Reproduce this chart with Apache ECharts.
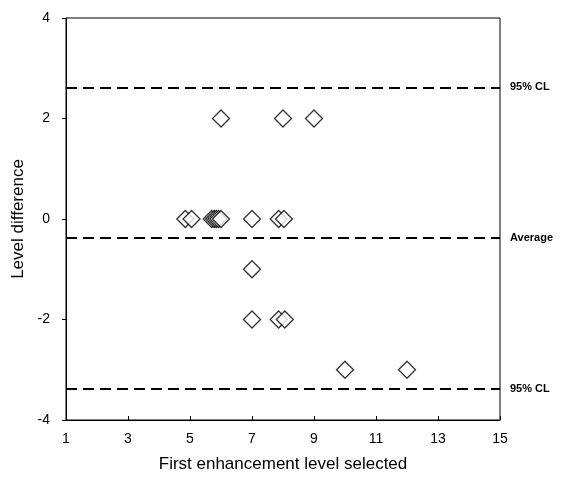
<!DOCTYPE html>
<html><head><meta charset="utf-8">
<script src="https://cdn.jsdelivr.net/npm/echarts@6/dist/echarts.min.js"></script>
<style>html,body{margin:0;padding:0;background:#fff}#c{width:564px;height:485px}</style>
</head><body><div id="c"></div>
<script>
var xValues = [6, 8, 9, 4.85, 5.05, 5.7, 5.78, 5.85, 5.92, 6.0, 7, 7.86, 8.03, 7, 7, 7.86, 8.06, 10, 12];
var yValues = [2, 2, 2, 0, 0, 0, 0, 0, 0, 0, 0, 0, 0, -1, -2, -2, -2, -3, -3];
var refNames = ['95% CL', 'Average', '95% CL'];
var refValues = [2.62, -0.38, -3.38];
var xTicks = [1, 3, 5, 7, 9, 11, 13, 15];
var yTicks = [-4, -2, 0, 2, 4];

var pts = xValues.map(function (x, i) { return [x, yValues[i]]; });
var font = 'Liberation Sans, Arial, sans-serif';
var chart = echarts.init(document.getElementById('c'));
chart.setOption({
  animation: false,
  grid: { left: 66, right: 64, top: 18, bottom: 65, show: true, borderColor: '#000', borderWidth: 1, backgroundColor: '#fff' },
  xAxis: {
    type: 'value', min: xTicks[0], max: xTicks[xTicks.length - 1], interval: 2,
    name: 'First enhancement level selected', nameLocation: 'middle', nameGap: 36,
    nameTextStyle: { fontFamily: font, fontSize: 17, color: '#000' },
    axisLine: { onZero: false, lineStyle: { color: '#000', width: 1 } },
    axisTick: { inside: true, length: 4, lineStyle: { color: '#000' } },
    axisLabel: { fontFamily: font, fontSize: 14, color: '#000', margin: 12 },
    splitLine: { show: false }
  },
  yAxis: {
    type: 'value', min: yTicks[0], max: yTicks[yTicks.length - 1], interval: 2,
    name: 'Level difference', nameLocation: 'middle', nameGap: 37, nameRotate: 90,
    nameTextStyle: { fontFamily: font, fontSize: 17, color: '#000' },
    axisLine: { onZero: false, lineStyle: { color: '#000', width: 1 } },
    axisTick: { inside: false, length: 4, lineStyle: { color: '#000' } },
    axisLabel: { fontFamily: font, fontSize: 14, color: '#000', margin: 16 },
    splitLine: { show: false }
  },
  series: [{
    type: 'scatter',
    data: pts,
    symbol: 'diamond',
    symbolSize: [17, 17],
    itemStyle: { color: '#fff', borderColor: '#000', borderWidth: 1.3 },
    markLine: {
      silent: true, symbol: 'none',
      lineStyle: { color: '#000', type: [11, 6], width: 2 },
      label: { show: true, position: 'end', distance: 10, fontFamily: font, fontSize: 11, fontWeight: 'bold', color: '#000',
        formatter: function (p) { return p.name; } },
      data: refValues.map(function (v, i) { return { name: refNames[i], yAxis: v }; })
    },
    z: 3
  }]
});
</script></body></html>
